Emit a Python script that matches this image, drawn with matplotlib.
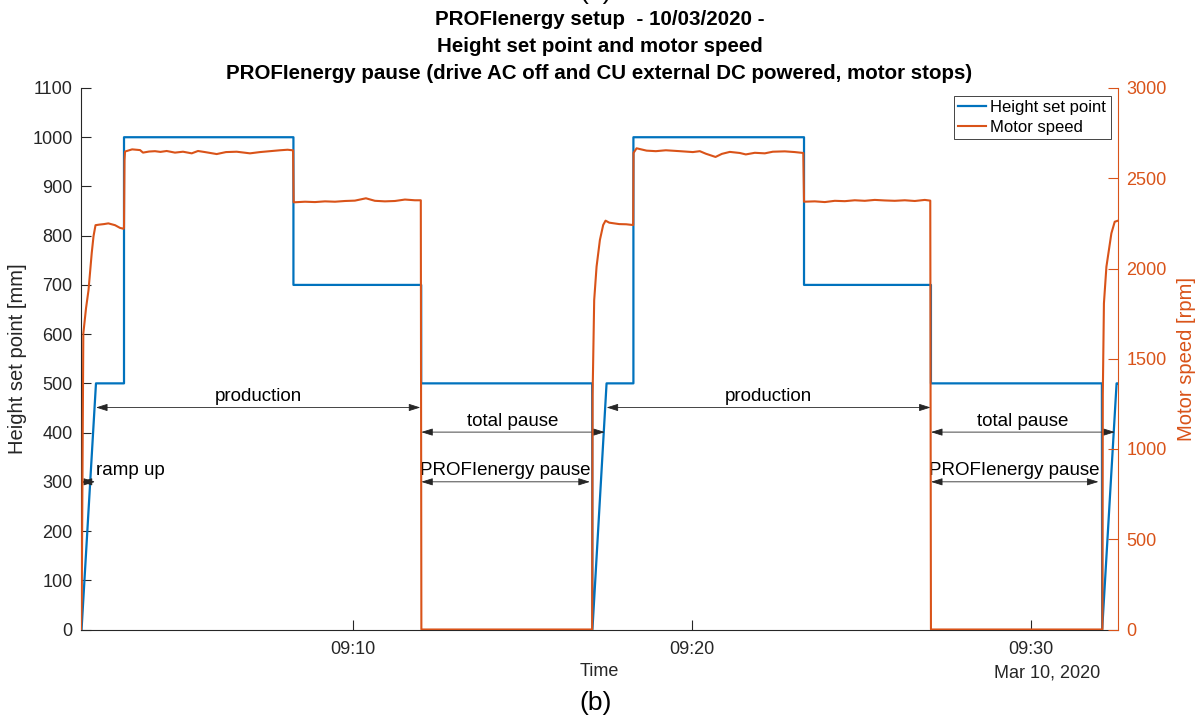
import matplotlib
matplotlib.use('Agg')
import matplotlib.pyplot as plt
import matplotlib.dates as mdates
from datetime import datetime, timedelta

plt.rcParams['font.family'] = ['Liberation Sans', 'DejaVu Sans']

BASE = datetime(2020, 3, 10, 9, 0, 0)

# ---------------- data (seconds after 09:00:00) ----------------
# Height set point [mm]
height_t = [120.5, 146.0, 195.6, 195.6, 495.4, 495.4, 721.5, 721.5, 1024.0, 1024.5,
            1049.5, 1097.0, 1097.0, 1398.9, 1398.9, 1623.5, 1623.5, 1926.0, 1926.5,
            1952.0, 1954.5]
height_v = [0, 500, 500, 1000, 1000, 700, 700, 500, 500, 0,
            500, 500, 1000, 1000, 700, 700, 500, 500, 0,
            500, 500]

# Motor speed [rpm] - cycle 1
speed1_t = [119.5, 120.8, 123.6, 128.4, 132.8, 138.5, 141.7, 145.2, 151.6, 160.0,
            167.9, 179.7, 188.5, 194.9, 195.6, 196.5, 197.4, 210.0, 224.0, 229.2,
            240.0, 250.4, 260.0, 271.1, 285.8, 300.0, 315.4, 326.5, 338.9, 359.6,
            376.0, 395.0, 418.5, 436.2, 453.9, 471.6, 485.0, 493.7, 494.8, 495.8,
            498.1, 515.8, 533.5, 551.2, 568.9, 586.6, 604.2, 623.7, 639.6, 657.3,
            675.0, 692.7, 710.4, 720.8, 721.8]
speed1_v = [0, 160, 1640, 1780, 1880, 2086, 2180, 2240, 2243, 2246,
            2250, 2240, 2225, 2220, 2225, 2600, 2648, 2660, 2656, 2642,
            2648, 2650, 2646, 2651, 2642, 2647, 2638, 2651, 2645, 2634,
            2645, 2647, 2638, 2645, 2650, 2655, 2658, 2655, 2655, 2367,
            2367, 2370, 2368, 2372, 2370, 2374, 2376, 2389, 2375, 2372,
            2374, 2382, 2378, 2378, 0]

# Motor speed [rpm] - cycle 2
speed2_t = [1024.0, 1024.8, 1027.6, 1031.8, 1037.7, 1043.5, 1047.7, 1054.2, 1063.0, 1071.9,
            1084.3, 1095.7, 1096.6, 1097.2, 1102.6, 1120.3, 1136.7, 1154.4, 1179.2, 1202.2,
            1214.5, 1225.1, 1242.3, 1253.5, 1267.6, 1285.3, 1295.9, 1311.8, 1329.5, 1343.7,
            1364.9, 1382.6, 1397.6, 1398.9, 1418.0, 1435.7, 1453.4, 1471.1, 1488.7, 1506.4,
            1524.1, 1541.8, 1559.5, 1577.2, 1594.9, 1612.6, 1622.3, 1623.5]
speed2_v = [0, 1300, 1825, 2010, 2158, 2241, 2265, 2254, 2250, 2246,
            2245, 2241, 2241, 2640, 2666, 2653, 2650, 2655, 2650, 2645,
            2650, 2636, 2618, 2635, 2646, 2640, 2632, 2641, 2638, 2647,
            2649, 2645, 2640, 2370, 2372, 2368, 2375, 2373, 2378, 2375,
            2380, 2377, 2375, 2378, 2374, 2380, 2376, 0]

# Motor speed [rpm] - cycle 3 start
speed3_t = [1926.9, 1927.6, 1929.6, 1934.0, 1942.8, 1948.7, 1954.5]
speed3_v = [0, 1300, 1807, 2010, 2195, 2259, 2265]

# annotations
arrow_labels = ['production', 'total pause', 'PROFIenergy pause',
                'production', 'total pause', 'PROFIenergy pause']
arrow_start = [146.0, 721.5, 721.5, 1049.5, 1623.5, 1623.5]
arrow_end = [720.0, 1046.4, 1020.0, 1623.0, 1949.0, 1920.0]
arrow_y = [451, 401, 300, 451, 401, 300]
ramp_start, ramp_end, ramp_y = 119.0, 144.4, 300

x_ticks = [600, 1200, 1800]
x_tick_labels = ['09:10', '09:20', '09:30']
y_left_ticks = list(range(0, 1101, 100))
y_right_ticks = list(range(0, 3001, 500))

# ---------------- plotting ----------------
def tnum(secs):
    return [mdates.date2num(BASE + timedelta(seconds=s)) for s in secs]

BLUE = '#0072BD'
ORANGE = '#D95319'
DARK = '#262626'

fig = plt.figure(figsize=(12.01, 7.21), dpi=100)
ax = fig.add_axes([81 / 1201, 1 - 629.5 / 721, 1037 / 1201, 541.5 / 721])
ax2 = ax.twinx()

l1, = ax.plot(tnum(height_t), height_v, color=BLUE, lw=1.6, label='Height set point')
speed_t = speed1_t + speed2_t + speed3_t
speed_v = speed1_v + speed2_v + speed3_v
l2, = ax2.plot(tnum(speed_t), speed_v, color=ORANGE, lw=1.5, label='Motor speed')

x0, x1 = tnum([119.5, 1954.5])
ax.set_xlim(x0, x1)
ax.set_ylim(0, 1100)
ax2.set_ylim(0, 3000)

ax.set_xticks(tnum(x_ticks))
ax.set_xticklabels(x_tick_labels)
ax.set_yticks(y_left_ticks)
ax2.set_yticks(y_right_ticks)

for s in ['top', 'right']:
    ax.spines[s].set_visible(False)
for s in ['top', 'left', 'bottom']:
    ax2.spines[s].set_visible(False)
ax.spines['left'].set_color(DARK)
ax.spines['bottom'].set_color(DARK)
ax.spines['left'].set_linewidth(0.8)
ax.spines['bottom'].set_linewidth(0.8)
ax2.spines['right'].set_color(ORANGE)
ax2.spines['right'].set_linewidth(0.8)

ax.tick_params(axis='both', direction='in', length=7, width=0.8, color=DARK,
               labelcolor=DARK, labelsize=13)
ax.tick_params(axis='y', pad=6)
ax.tick_params(axis='x', pad=8)
ax2.tick_params(axis='y', direction='in', length=7, width=0.8, color=ORANGE,
                labelcolor=ORANGE, labelsize=13, pad=6)
ax2.tick_params(axis='x', bottom=False, top=False, labelbottom=False)

ax.set_ylabel('Height set point [mm]', fontsize=14.5, color=DARK, va='center')
ax.yaxis.set_label_coords((18 - 81) / 1037, 0.5)
ax2.set_ylabel('Motor speed [rpm]', fontsize=14.5, color=ORANGE, va='center')
ax2.yaxis.set_label_coords((1186 - 81) / 1037, 0.5)
ax.set_xlabel('Time', fontsize=13, color=DARK, va='center')
ax.xaxis.set_label_coords(0.5, (629.5 - 671) / 541.5)
ax.text((1047 - 81) / 1037, (629.5 - 673) / 541.5, 'Mar 10, 2020', transform=ax.transAxes,
        ha='center', va='center', fontsize=13, color=DARK)

# annotations
aprops = dict(arrowstyle='<|-|>,head_length=0.7,head_width=0.22', color=DARK, lw=0.6,
              shrinkA=0, shrinkB=0, mutation_scale=10)
for lab, a, b, y in zip(arrow_labels, arrow_start, arrow_end, arrow_y):
    xa, xb = tnum([a, b])
    ax.annotate('', xy=(xb, y), xytext=(xa, y), arrowprops=aprops)
    ax.text((xa + xb) / 2, y + 13, lab, ha='center', va='baseline', fontsize=13.5, color='black')
xa, xb = tnum([ramp_start, ramp_end])
ax.annotate('', xy=(xb, ramp_y), xytext=(xa, ramp_y), arrowprops=aprops)
ax.text(tnum([146.5])[0], ramp_y + 13, 'ramp up', ha='left', va='baseline', fontsize=13.5, color='black')

leg = ax2.legend(handles=[l1, l2], loc='upper right', fontsize=12, frameon=True,
                 fancybox=False, edgecolor=DARK, framealpha=1, borderaxespad=0.45,
                 handlelength=1.7, handletextpad=0.25, labelspacing=0.3, borderpad=0.25)
leg.get_frame().set_linewidth(0.6)

# titles
title_lines = ['PROFIenergy setup  - 10/03/2020 -',
               'Height set point and motor speed',
               'PROFIenergy pause (drive AC off and CU external DC powered, motor stops)']
for i, line in enumerate(title_lines):
    fig.text(599.5 / 1201, 1 - (25 + 27 * i) / 721, line, ha='center', va='baseline',
             fontsize=14.8, fontweight='bold', color='black')
fig.text(596 / 1201, 1 + 1 / 721, '(a)', ha='center', va='baseline', fontsize=19, color='black')
fig.text(596 / 1201, 1 - 703 / 721, '(b)', ha='center', va='center', fontsize=19, color='black')

fig.savefig('out.png', dpi=100)
